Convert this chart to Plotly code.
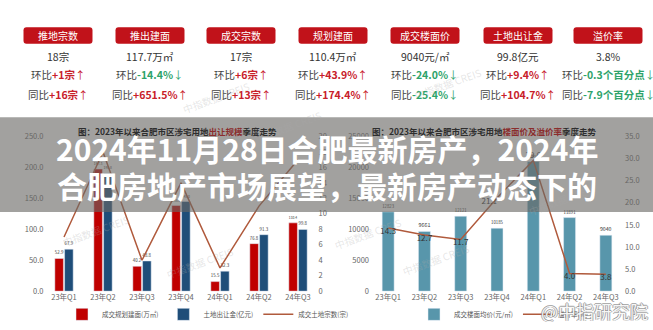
import plotly.graph_objects as go

W, H = 653, 330
def X(px): return px / W
def Y(py): return 1 - py / H

FONT = "Noto Sans CJK SC, Noto Sans, sans-serif"

# ---------------- data ----------------
kpi_names = ['推地宗数', '推出建面', '成交宗数', '规划建面', '成交楼面价', '土地出让金', '溢价率']
kpi_values = ['18宗', '117.7万㎡', '17宗', '110.4万㎡', '9040元/㎡', '99.8亿元', '3.8%']
kpi_hb = ['+1宗', '-14.4%', '+6宗', '+43.9%', '-24.0%', '+9.4%', '-0.3个百分点']
kpi_tb = ['+16宗', '+651.5%', '+13宗', '+174.4%', '-25.4%', '+104.7%', '-7.9个百分点']

quarters = ['23年Q1', '23年Q2', '23年Q3', '23年Q4', '24年Q1', '24年Q2', '24年Q3']
planned_area = [52.9, 197.3, 40.2, 138.5, 15.5, 76.8, 110.4]      # 成交规划建面(万㎡)
land_revenue = [67.9, 190.8, 48.8, 145.0, 32.3, 91.3, 99.8]       # 土地出让金(亿元)
deal_count = [7, 18, 4, 14, 3, 11, 17]                             # 成交土地宗数(宗)
floor_price = [12823, 9661, 12121, 10185, 20950, 11891, 9040]      # 成交楼面均价(元/㎡)
premium_rate = [14.3, 12.7, 11.7, 21.1, 29.6, 4.0, 3.8]            # 溢价率(%)

headline = ['2024年11月28日合肥最新房产，2024年', '合肥房地产市场展望，最新房产动态下的']
left_title = ('图：2023年以来合肥市区涉宅用地', '出让规模', '季度走势')
right_title = ('图：2023年以来合肥市区涉宅用地', '楼面价及溢价率', '季度走势')

RED = '#c00000'
BLUE = '#1f4e79'
TEAL = '#5896ab'
LINE = '#b05a3c'
UP = '#c8202a'
DOWN = '#2ea36a'

fig = go.Figure()

lblfont = dict(size=8, color='#333')

# ---------------- left chart ----------------
fig.add_trace(go.Bar(x=quarters, y=planned_area, name='成交规划建面(万㎡)', marker_color=RED,
                     texttemplate='%{y:.1f}', textposition='outside', cliponaxis=False,
                     textfont=lblfont, xaxis='x', yaxis='y', legend='legend'))
fig.add_trace(go.Bar(x=quarters, y=land_revenue, name='土地出让金(亿元)', marker_color=BLUE,
                     texttemplate='%{y:.1f}', textposition='outside', cliponaxis=False,
                     textfont=lblfont, xaxis='x', yaxis='y', legend='legend'))
fig.add_trace(go.Scatter(x=quarters, y=deal_count, name='成交土地宗数(宗)', mode='lines',
                         line=dict(color=LINE, width=1.5), xaxis='x', yaxis='y2', legend='legend',
                         cliponaxis=False))

# ---------------- right chart ----------------
fig.add_trace(go.Bar(x=quarters, y=floor_price, name='成交楼面均价(元/㎡)', marker_color=TEAL, width=0.33,
                     texttemplate='%{y:.0f}', textposition='outside', cliponaxis=False,
                     textfont=lblfont, xaxis='x2', yaxis='y3', legend='legend2'))
fig.add_trace(go.Scatter(x=quarters, y=premium_rate, name='溢价率(%)', mode='lines+text',
                         texttemplate='%{y:.1f}',
                         textposition=['bottom center', 'bottom center', 'bottom center', 'bottom left',
                                       'top center', 'bottom center', 'bottom center'],
                         textfont=lblfont,
                         line=dict(color=LINE, width=1.5), xaxis='x2', yaxis='y4', legend='legend2',
                         cliponaxis=False))

tickfont = dict(size=7.5, color='#666')
ydom = [Y(295), Y(135)]

fig.update_layout(
    width=W, height=H, margin=dict(l=0, r=0, t=0, b=0),
    paper_bgcolor='white', plot_bgcolor='rgba(0,0,0,0)',
    font=dict(family=FONT, color='#333'),
    barmode='group', bargap=0.5, bargroupgap=0.12,
    xaxis=dict(domain=[X(44.5), X(317.5)], anchor='y', tickfont=tickfont, showline=False,
               ticks='', showgrid=False, zeroline=False),
    yaxis=dict(domain=ydom, range=[0, 250], dtick=50, tickformat='.1f', tickfont=tickfont,
               showgrid=False, zeroline=False, anchor='x'),
    yaxis2=dict(overlaying='y', side='right', range=[0, 20], dtick=2, tickfont=tickfont,
                showgrid=False, zeroline=False, anchor='x'),
    xaxis2=dict(domain=[X(370), X(624)], anchor='y3', tickfont=tickfont, showline=False,
                ticks='', showgrid=False, zeroline=False),
    yaxis3=dict(domain=ydom, range=[0, 25000], dtick=5000, tickformat='d', tickfont=tickfont,
                showgrid=False, zeroline=False, anchor='x2'),
    yaxis4=dict(overlaying='y3', side='right', range=[0, 35], dtick=5, tickformat='.1f',
                tickfont=tickfont, showgrid=False, zeroline=False, anchor='x2'),
    legend=dict(orientation='h', x=X(62), y=Y(319), xanchor='left', yanchor='middle',
                font=dict(size=6.5, color='#555'), bgcolor='rgba(0,0,0,0)', itemwidth=30,
                traceorder='normal'),
    legend2=dict(orientation='h', x=X(414), y=Y(319), xanchor='left', yanchor='middle',
                 font=dict(size=6.5, color='#555'), bgcolor='rgba(0,0,0,0)', itemwidth=30,
                 traceorder='normal'),
)

shapes = []
ann = []

def rrect(x0, y0, x1, y1, r):
    pts = [
        ('M', [(x0 + r, y0)]), ('L', [(x1 - r, y0)]), ('Q', [(x1, y0), (x1, y0 + r)]),
        ('L', [(x1, y1 - r)]), ('Q', [(x1, y1), (x1 - r, y1)]), ('L', [(x0 + r, y1)]),
        ('Q', [(x0, y1), (x0, y1 - r)]), ('L', [(x0, y0 + r)]), ('Q', [(x0, y0), (x0 + r, y0)]),
    ]
    s = ''
    for cmd, ps in pts:
        s += cmd + ' ' + ' '.join(f'{X(px):.5f},{Y(py):.5f}' for px, py in ps) + ' '
    return s + 'Z'

# ---------------- KPI cards ----------------
centers = [58, 150, 241, 333, 425, 518, 608]
def change_html(label, val):
    col = UP if val.startswith('+') else DOWN
    arrow = '↑' if val.startswith('+') else '↓'
    return (f'<span style="color:#444">{label}</span><b><span style="color:{col}">{val}</span></b>'
            f'<span style="color:{col}">{arrow}</span>')

for i, cx in enumerate(centers):
    shapes.append(dict(type='path', xref='paper', yref='paper',
                       path=rrect(cx - 34.5, 22, cx + 34.5, 39, 3),
                       fillcolor='#c1121a', line=dict(width=0), layer='below'))
    ann.append(dict(x=X(cx), y=Y(30.5), xref='paper', yref='paper', text=kpi_names[i],
                    showarrow=False, font=dict(size=10, color='white', family=FONT),
                    xanchor='center', yanchor='middle'))
    ann.append(dict(x=X(cx), y=Y(52), xref='paper', yref='paper', text=kpi_values[i],
                    showarrow=False, font=dict(size=10.5, color='#333', family=FONT),
                    xanchor='center', yanchor='middle'))
    ann.append(dict(x=X(cx), y=Y(71), xref='paper', yref='paper', text=change_html('环比', kpi_hb[i]),
                    showarrow=False, font=dict(size=10.5, family=FONT),
                    xanchor='center', yanchor='middle'))
    ann.append(dict(x=X(cx), y=Y(92), xref='paper', yref='paper', text=change_html('同比', kpi_tb[i]),
                    showarrow=False, font=dict(size=10.5, family=FONT),
                    xanchor='center', yanchor='middle'))

# faint watermarks
for (wx, wy) in [(178, 72), (288, 102), (486, 58), (58, 255), (162, 288), (368, 258), (474, 285), (600, 200)]:
    ann.append(dict(x=X(wx), y=Y(wy), xref='paper', yref='paper', text='中指数据 CREIS',
                    showarrow=False, textangle=-20,
                    font=dict(size=10, color='rgba(170,170,170,0.3)', family=FONT)))

# gray band overlay
shapes.append(dict(type='rect', xref='paper', yref='paper', x0=0, x1=1, y0=Y(213), y1=Y(115),
                   fillcolor='rgba(105,103,100,0.62)', line=dict(width=0), layer='above'))

# chart titles (seen through the band)
for (t, cx) in [(left_title, 177), (right_title, 484)]:
    ann.append(dict(x=X(cx), y=Y(129), xref='paper', yref='paper',
                    text=f'<b>{t[0]}<span style="color:#8a2d2d">{t[1]}</span>{t[2]}</b>',
                    showarrow=False, font=dict(size=8.5, color='#2e2e2e', family=FONT),
                    xanchor='center', yanchor='middle'))

# headline
for txt, yy in zip(headline, [147, 185]):
    ann.append(dict(x=X(327), y=Y(yy), xref='paper', yref='paper', text=f'<b>{txt}</b>',
                    showarrow=False, font=dict(size=30, color='white', family=FONT),
                    xanchor='center', yanchor='middle'))

# weibo watermark
for dx, dy in [(-1, 0), (1, 0), (0, -1), (0, 1)]:
    ann.append(dict(x=X(594 + dx), y=Y(315 + dy), xref='paper', yref='paper', text='@中指研究院',
                    showarrow=False, font=dict(size=18, color='rgba(120,120,120,0.6)', family=FONT),
                    xanchor='center', yanchor='middle'))
ann.append(dict(x=X(594), y=Y(315), xref='paper', yref='paper', text='@中指研究院',
                showarrow=False, font=dict(size=18, color='rgba(255,255,255,0.95)', family=FONT),
                xanchor='center', yanchor='middle'))

fig.update_layout(shapes=shapes, annotations=ann)
fig.write_html('out.html')
